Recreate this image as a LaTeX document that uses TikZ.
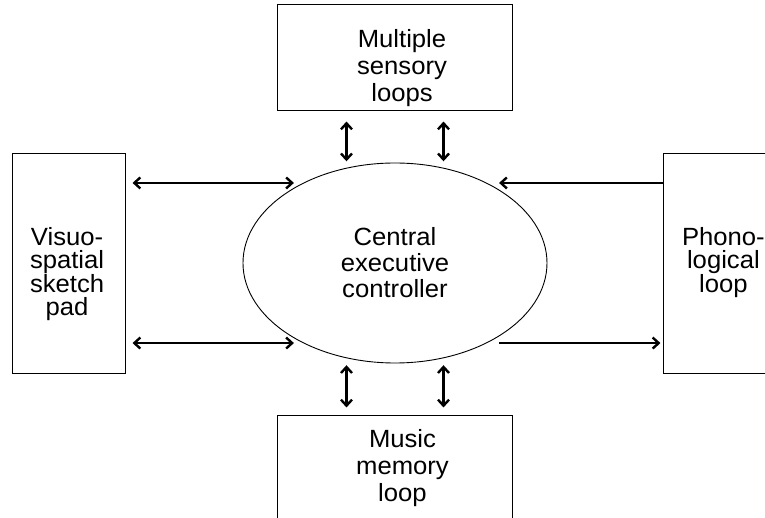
\documentclass[tikz,border=0pt]{standalone}
\usepackage{fontspec}
\setmainfont[FakeStretch=1.03]{Liberation Sans}
\usetikzlibrary{shapes.geometric,arrows.meta,positioning}

\begin{document}
\begin{tikzpicture}[
  x=1bp, y=1bp,
  font=\fontsize{25}{26}\selectfont,
  block/.style={draw, line width=0.9bp, align=center, inner sep=0pt},
  sidebox/.style={block, minimum width=113bp, minimum height=220bp},
  widebox/.style={block, minimum width=235bp, minimum height=106bp},
  hub/.style={block, ellipse, minimum width=304bp, minimum height=200bp},
  caption/.style={align=center, inner sep=0pt},
  link/.style={-{Straight Barb[length=6bp,width=11bp]}, line width=2.4bp},
  twoway/.style={{Straight Barb[length=6bp,width=11bp]}-{Straight Barb[length=6bp,width=11bp]}, line width=2.4bp}
]
\useasboundingbox (-395,-255) rectangle (370,263);

\node[hub] (ctrl) at (0,0) {\fontsize{25}{24.5}\selectfont Central\\executive\\controller};
\node[widebox, above=52bp of ctrl,
  label={[caption, xshift=7bp, yshift=-11bp, font=\fontsize{25}{27.5}\selectfont]center:{Multiple\\sensory\\loops}}] (sens) {};
\node[widebox, below=52bp of ctrl,
  label={[caption, xshift=7.5bp, yshift=1bp, font=\fontsize{25}{27}\selectfont]center:{Music\\memory\\loop}}] (mus) {};
\node[sidebox, left=117bp of ctrl,
  label={[caption, xshift=-1.5bp, yshift=-11bp, font=\fontsize{25}{23}\selectfont]center:{Visuo-\\spatial\\sketch\\pad}}] (vis) {};
\node[sidebox, right=116bp of ctrl,
  label={[caption, xshift=3bp, font=\fontsize{25}{23}\selectfont]center:{Phono-\\logical\\loop}}] (pho) {};

% links to the sensory and music loops
\draw[twoway, shorten <=11bp, shorten >=6.5bp] (ctrl.117 |- sens.south) -- (ctrl.117);
\draw[twoway, shorten <=11bp, shorten >=6.5bp] (ctrl.63 |- sens.south) -- (ctrl.63);
\draw[twoway, shorten <=7bp, shorten >=8bp] (ctrl.-117) -- (ctrl.-117 |- mus.north);
\draw[twoway, shorten <=7bp, shorten >=8bp] (ctrl.-63) -- (ctrl.-63 |- mus.north);

% sketch pad on the left
\draw[twoway, shorten <=7bp, shorten >=9bp] (ctrl.139 -| vis.east) -- (ctrl.139);
\draw[twoway, shorten <=7bp, shorten >=9bp] (ctrl.221 -| vis.east) -- (ctrl.221);

% phonological loop on the right
\draw[link, shorten >=12bp] (ctrl.41 -| pho.west) -- (ctrl.41);
\draw[link, shorten <=12bp, shorten >=3bp] (ctrl.-41) -- (ctrl.-41 -| pho.west);
\end{tikzpicture}
\end{document}
